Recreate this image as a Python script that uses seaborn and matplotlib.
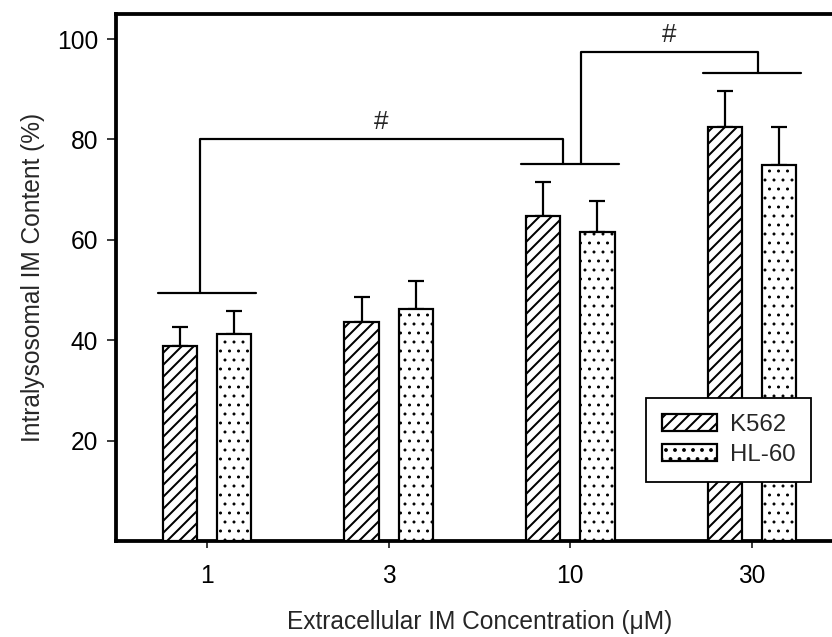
import numpy as np
import pandas as pd
import matplotlib
matplotlib.use('Agg')
import matplotlib.pyplot as plt
import seaborn as sns
from matplotlib.patches import Patch

# data
conc = ['1', '3', '10', '30']
k562 = [38.9, 43.6, 64.7, 82.4]
k562_sd = [3.8, 5.1, 6.9, 7.3]
hl60 = [41.3, 46.3, 61.5, 75.0]
hl60_sd = [4.6, 5.6, 6.3, 7.5]
lines = ['K562', 'HL-60']
# significance brackets: (group a, group b, height)
brackets = [(0, 2, 80.0), (2, 3, 97.5)]

df = pd.DataFrame({'Conc': conc * 2,
                   'Content': k562 + hl60,
                   'SD': k562_sd + hl60_sd,
                   'Line': [lines[0]] * 4 + [lines[1]] * 4})

dpi = 108
def pt(px):
    # pixel size -> points at this dpi
    return px * 72 / dpi

sns.set_style('ticks')
plt.rcParams['font.family'] = ['Liberation Sans', 'DejaVu Sans']
plt.rcParams['hatch.linewidth'] = pt(2.0)
plt.rcParams['hatch.color'] = 'black'

fig = plt.figure(figsize=(832 / dpi, 637 / dpi), dpi=dpi)
ax = fig.add_axes([116 / 832, 96 / 637, 727 / 832, 527 / 637])

sns.barplot(x='Conc', y='Content', hue='Line', data=df, order=conc,
            hue_order=lines, palette=['white', 'white'], width=0.596,
            gap=0.37, errorbar=None, edgecolor='black', linewidth=pt(2.2),
            legend=False, ax=ax, zorder=3)

hatches = ['///', '..']
hatch_lw = [pt(2.0), pt(1.2)]
def set_hatch(p, h, lw):
    p.set_hatch(h)
    if hasattr(p, 'set_hatch_linewidth'):
        p.set_hatch_linewidth(lw)
    else:
        p._hatch_linewidth = lw

for cont, h, lw in zip(ax.containers, hatches, hatch_lw):
    for bar in cont:
        set_hatch(bar, h, lw)

# upper error bars
for cont, sd in zip(ax.containers, [k562_sd, hl60_sd]):
    xs = [b.get_x() + b.get_width() / 2 for b in cont]
    ys = [b.get_height() for b in cont]
    ax.errorbar(xs, ys, yerr=[np.zeros(len(sd)), sd], fmt='none',
                ecolor='black', elinewidth=pt(2.2), capsize=pt(8),
                capthick=pt(2.2), zorder=2)

# brackets over groups
tops = np.maximum(np.array(k562) + np.array(k562_sd),
                  np.array(hl60) + np.array(hl60_sd))
base = tops + 3.5
for g in range(len(conc)):
    if g == 1:
        continue
    ax.plot([g - 0.27, g + 0.27], [base[g], base[g]], color='black', lw=pt(2.2))
offs = [(-0.04, -0.04), (0.06, 0.03)]
for (a, b, h), (oa, ob) in zip(brackets, offs):
    ax.plot([a + oa, a + oa, b + ob, b + ob], [base[a], h, h, base[b]],
            color='black', lw=pt(2.2))
    ax.text((a + oa + b + ob) / 2, h + 1.0, '#', ha='center', va='bottom',
            fontsize=pt(26))

ax.set_xlim(-0.5, 3.5)
ax.set_ylim(0, 105)
ax.set_yticks([20, 40, 60, 80, 100])
ax.tick_params(axis='both', labelsize=pt(24.5), width=pt(1.5), colors='black')
ax.tick_params(axis='y', length=pt(9), pad=pt(9))
ax.tick_params(axis='x', length=pt(7), pad=pt(16))
ax.set_xlabel('Extracellular IM Concentration (\u03bcM)', fontsize=pt(24.5),
              labelpad=pt(22))
ax.set_ylabel('Intralysosomal IM Content (%)', fontsize=pt(24.5),
              labelpad=pt(12))
for s in ax.spines.values():
    s.set_linewidth(pt(3.8))
    s.set_color('black')

handles = [Patch(facecolor='white', edgecolor='black', hatch=h, linewidth=pt(2.2))
           for h in hatches]
for hd, lw in zip(handles, hatch_lw):
    set_hatch(hd, hd.get_hatch(), lw)
leg = ax.legend(handles, lines, loc='upper left',
                bbox_to_anchor=(0.729, 0.271), borderaxespad=0,
                fontsize=pt(24), handlelength=2.3, handleheight=0.7,
                handletextpad=0.55, borderpad=0.65, labelspacing=0.35,
                fancybox=False, framealpha=1, edgecolor='black')
leg.get_frame().set_linewidth(pt(1.8))
leg.set_zorder(5)

fig.savefig('out.png', dpi=dpi)
